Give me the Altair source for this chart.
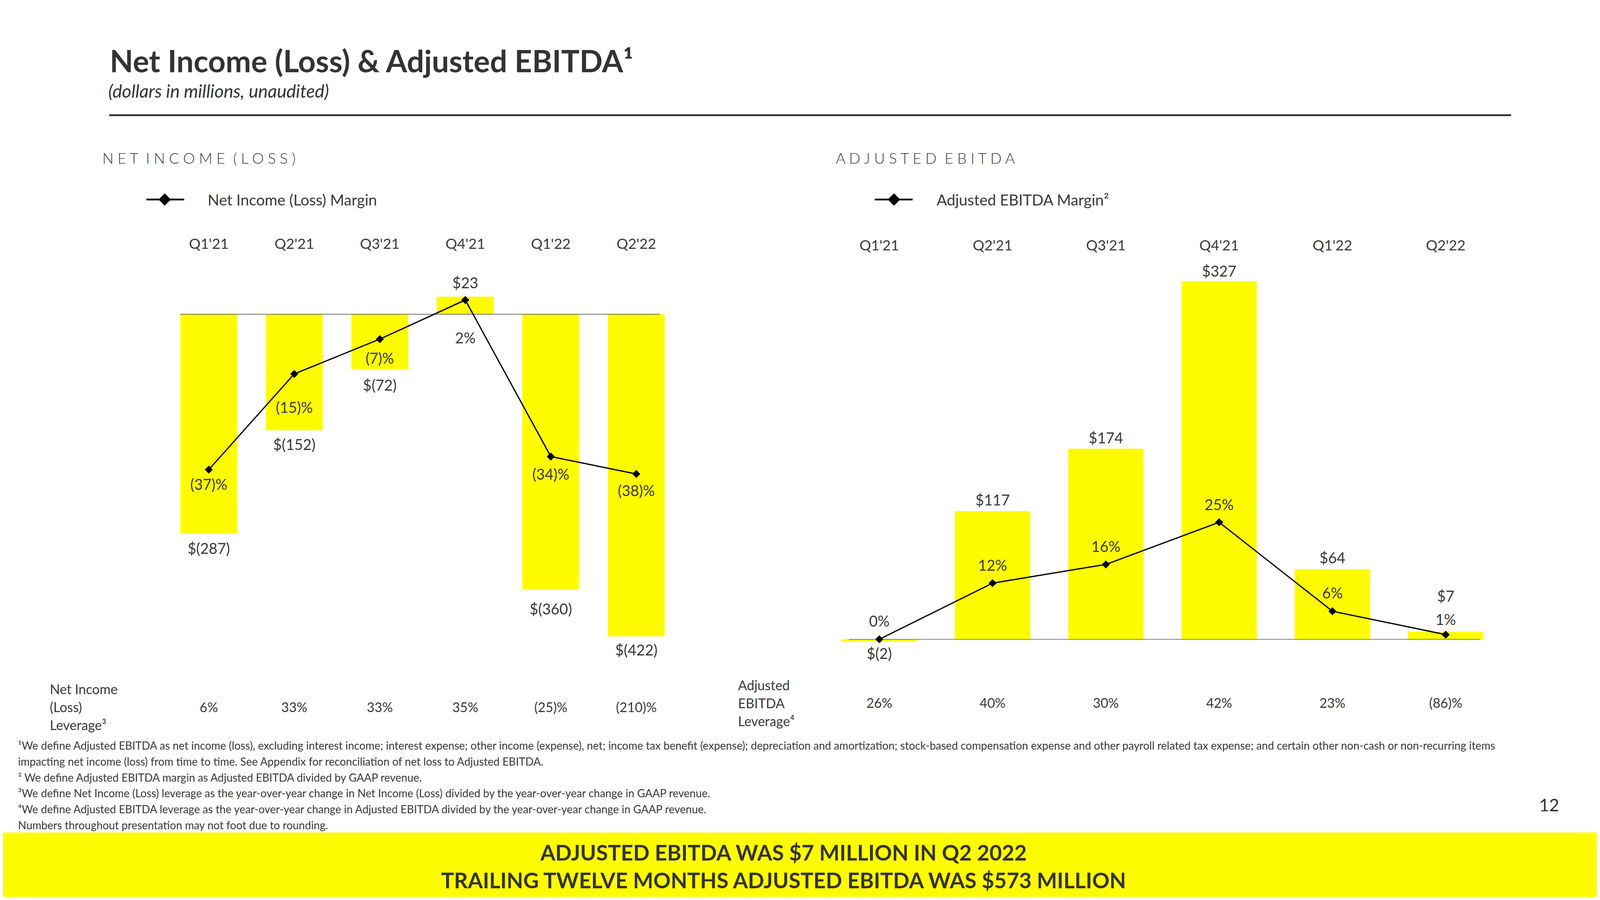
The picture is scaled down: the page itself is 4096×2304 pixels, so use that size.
import numpy as np
import pandas as pd
import altair as alt

# ---------------- data ----------------
quarters = ["Q1'21", "Q2'21", "Q3'21", "Q4'21", "Q1'22", "Q2'22"]

net_income = [-287, -152, -72, 23, -360, -422]
net_income_text = ["$(287)", "$(152)", "$(72)", "$23", "$(360)", "$(422)"]
net_margin = [-37, -15, -7, 2, -34, -38]
net_margin_text = ["(37)%", "(15)%", "(7)%", "2%", "(34)%", "(38)%"]
net_leverage = ["6%", "33%", "33%", "35%", "(25)%", "(210)%"]

adj_ebitda = [-2, 117, 174, 327, 64, 7]
adj_ebitda_text = ["$(2)", "$117", "$174", "$327", "$64", "$7"]
adj_margin = [0, 12, 16, 25, 6, 1]
adj_margin_text = ["0%", "12%", "16%", "25%", "6%", "1%"]
adj_leverage = ["26%", "40%", "30%", "42%", "23%", "(86)%"]

title_text = "Net Income (Loss) & Adjusted EBITDA\u00b9"
subtitle_text = "(dollars in millions, unaudited)"
left_header = "NET INCOME (LOSS)"
right_header = "ADJUSTED EBITDA"
left_legend = "Net Income (Loss) Margin"
right_legend = "Adjusted EBITDA Margin\u00b2"
left_row_header = ["Net Income", "(Loss)", "Leverage\u00b3"]
right_row_header = ["Adjusted", "EBITDA", "Leverage\u2074"]
footnotes = [
    "\u00b9We define Adjusted EBITDA as net income (loss), excluding interest income; interest expense; other income (expense), net; income tax benefit (expense); depreciation and amortization; stock-based compensation expense and other payroll related tax expense; and certain other non-cash or non-recurring items",
    "impacting net income (loss) from time to time. See Appendix for reconciliation of net loss to Adjusted EBITDA.",
    "\u00b2 We define Adjusted EBITDA margin as Adjusted EBITDA divided by GAAP revenue.",
    "\u00b3We define Net Income (Loss) leverage as the year-over-year change in Net Income (Loss) divided by the year-over-year change in GAAP revenue.",
    "\u2074We define Adjusted EBITDA leverage as the year-over-year change in Adjusted EBITDA divided by the year-over-year change in GAAP revenue.",
    "Numbers throughout presentation may not foot due to rounding.",
]
banner_lines = ["ADJUSTED EBITDA WAS $7 MILLION IN Q2 2022",
                "TRAILING TWELVE MONTHS ADJUSTED EBITDA WAS $573 MILLION"]
page_number = "12"

# ---------------- layout (reference px -> chart px) ----------------
S = 0.768


def P(v):
    return round(v * S - 8, 2)


FONT = "Lato"
DARK = "#333333"
TXT = "#3a3a3a"
YELLOW = "#FFFC00"
ONE = pd.DataFrame({"k": [0]})

LEFT = dict(x0=553.5, x1=2263.5, pad=1 / 3,
            vzero=1047.6, vpx=2.544, vdom=[-450, 50],
            mzero=1028.9, mpx=14.5, mdom=[-40, 5],
            vlab_off=[68, 66, 71, -28, 85, 64],
            mlab_off=[68, 130, 82, 145, 77, 74],
            rule=(601, 2199), qy=829, levy=2374)
RIGHT = dict(x0=2742.2, x1=5007.8, pad=0.335,
             vzero=2131, vpx=3.65, vdom=[-10, 330],
             mzero=2131, mpx=15.6, mdom=[0, 30],
             vlab_off=[58, -19, -18, -15, -20, -100],
             mlab_off=[-43, -41, -41, -41, -42, -32],
             rule=(2829, 4935), qy=834, levy=2360)


def spaced(s):
    return "\u00a0\u00a0".join("\u00a0".join(w) for w in s.split(" "))


def txt(text, x, y, size, weight="normal", style="normal", align="left",
        color=DARK, lh=None):
    kw = dict(text=text, font=FONT, fontSize=size, fontWeight=weight,
              fontStyle=style, align=align, baseline="alphabetic", color=color)
    if lh is not None:
        kw["lineHeight"] = lh
    return alt.Chart(ONE).mark_text(**kw).encode(x=alt.value(x), y=alt.value(y))


def panel(vals, vtext, marg, mtext, lev, g):
    df = pd.DataFrame({"q": quarters, "v": vals, "vt": vtext,
                       "m": marg, "mt": mtext, "lev": lev})
    df["v_lab"] = df["v"] - np.array(g["vlab_off"]) / g["vpx"]
    df["m_lab"] = df["m"] - np.array(g["mlab_off"]) / g["mpx"]

    xs = alt.Scale(domain=quarters, range=[P(g["x0"]), P(g["x1"])],
                   paddingInner=g["pad"], paddingOuter=g["pad"] / 2)
    X = alt.X("q:N", scale=xs, axis=None)
    vs = alt.Scale(domain=g["vdom"],
                   range=[P(g["vzero"] - g["vpx"] * g["vdom"][0]),
                          P(g["vzero"] - g["vpx"] * g["vdom"][1])],
                   nice=False, zero=False)
    ms = alt.Scale(domain=g["mdom"],
                   range=[P(g["mzero"] - g["mpx"] * g["mdom"][0]),
                          P(g["mzero"] - g["mpx"] * g["mdom"][1])],
                   nice=False, zero=False)
    base = alt.Chart(df)

    bars = base.mark_bar(color=YELLOW).encode(
        x=X, y=alt.Y("v:Q", scale=vs, axis=None), y2=alt.datum(0))
    zero = alt.Chart(pd.DataFrame({"z": [0]})).mark_rule(
        color="#404040", strokeWidth=1.4).encode(
        y=alt.Y("z:Q", scale=vs, axis=None),
        x=alt.value(P(g["rule"][0])), x2=alt.value(P(g["rule"][1])))
    line = base.mark_line(color="black", strokeWidth=3.2).encode(
        x=X, y=alt.Y("m:Q", scale=ms, axis=None))
    pts = base.mark_point(shape="diamond", filled=True, size=420,
                          color="black", opacity=1).encode(
        x=X, y=alt.Y("m:Q", scale=ms, axis=None))
    vlab = base.mark_text(font=FONT, fontSize=38, color=TXT,
                          baseline="alphabetic").encode(
        x=X, y=alt.Y("v_lab:Q", scale=vs, axis=None), text="vt:N")
    mlab = base.mark_text(font=FONT, fontSize=38, color=TXT,
                          baseline="alphabetic").encode(
        x=X, y=alt.Y("m_lab:Q", scale=ms, axis=None), text="mt:N")
    qlab = base.mark_text(font=FONT, fontSize=37, color=TXT,
                          baseline="alphabetic").encode(
        x=X, y=alt.value(P(g["qy"])), text="q:N")
    levlab = base.mark_text(font=FONT, fontSize=34, color=TXT,
                            baseline="alphabetic").encode(
        x=X, y=alt.value(P(g["levy"])), text="lev:N")
    return alt.layer(bars, zero, line, pts, vlab, mlab, qlab, levlab).resolve_scale(
        x="independent", y="independent")


left = panel(net_income, net_income_text, net_margin, net_margin_text, net_leverage, LEFT)
right = panel(adj_ebitda, adj_ebitda_text, adj_margin, adj_margin_text, adj_leverage, RIGHT)


def legend(x_line0, x_line1, x_mark, x_text, label):
    ln = alt.Chart(ONE).mark_rule(color="black", strokeWidth=4.6).encode(
        x=alt.value(P(x_line0)), x2=alt.value(P(x_line1)), y=alt.value(P(665)))
    mk = alt.Chart(ONE).mark_point(shape="diamond", filled=True, size=1000,
                                   color="black", opacity=1).encode(
        x=alt.value(P(x_mark)), y=alt.value(P(665)))
    tx = txt(label, P(x_text), P(685), 39, color=TXT)
    return [ln, mk, tx]


banner = alt.Chart(ONE).mark_rect(color=YELLOW).encode(
    x=alt.value(P(0)), x2=alt.value(P(5333)),
    y=alt.value(P(2775)), y2=alt.value(P(3000)))
top_rule = alt.Chart(ONE).mark_rule(color=DARK, strokeWidth=4.6).encode(
    x=alt.value(P(364)), x2=alt.value(P(5037)), y=alt.value(P(384)))

layers = [
    banner,
    txt(title_text, P(366), P(241), 78, weight="bold"),
    txt(subtitle_text, P(361), P(326), 46, style="italic"),
    top_rule,
    txt(spaced(left_header), P(341), P(545.6), 38, weight=300, color=TXT),
    txt(spaced(right_header), P(2786), P(545.6), 38, weight=300, color=TXT),
    *legend(488, 614, 549, 692, left_legend),
    *legend(2916, 3042, 2980, 3122, right_legend),
    left,
    right,
    txt(left_row_header, P(166), P(2314), 34, color=TXT, lh=round(59.5 * S, 2)),
    txt(right_row_header, P(2460), P(2301), 34, color=TXT, lh=round(59.5 * S, 2)),
    txt(footnotes, P(60), P(2499), 28, color=TXT, lh=round(53 * S, 2)),
    txt(page_number, P(5197), P(2705), 44, align="right", color=DARK),
    txt(banner_lines, P(2612), P(2868), 55, weight="bold", align="center",
        color=DARK, lh=round(93 * S, 2)),
]

chart = alt.layer(*layers).resolve_scale(
    x="independent", y="independent"
).properties(
    width=4080, height=2288,
    autosize=alt.AutoSizeParams(type="none"),
    padding=0,
    background="white",
).configure_view(strokeWidth=0)

chart.save("out.html", embed_options={"renderer": "svg", "actions": False})
